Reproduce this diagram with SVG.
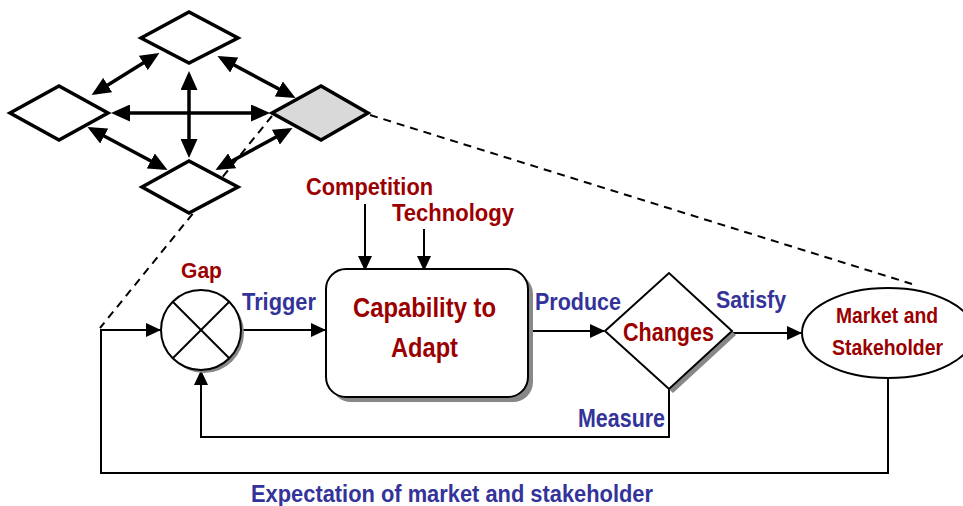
<svg xmlns="http://www.w3.org/2000/svg" width="963" height="506" viewBox="0 0 963 506">
<style>
.red{fill:#9b0000;font-family:"Liberation Sans Narrow","Liberation Sans",Arial,sans-serif;font-weight:bold}
.blue{fill:#333399;font-family:"Liberation Sans Narrow","Liberation Sans",Arial,sans-serif;font-weight:bold}
.dia{fill:#fff;stroke:#000;stroke-width:3.5;stroke-linejoin:miter}
.thick{stroke:#000;stroke-width:3.5;fill:none;marker-start:url(#ha);marker-end:url(#ha)}
.ln{stroke:#000;stroke-width:2;fill:none}
.arr{marker-end:url(#a)}
.dash{stroke:#000;stroke-width:2;stroke-dasharray:8,6;fill:none}
.shadow{fill:#888;stroke:none}
</style>
<defs>
<marker id="a" markerUnits="userSpaceOnUse" markerWidth="16" markerHeight="14" refX="14" refY="7" orient="auto"><path d="M0,0 L15,7 L0,14 z" fill="#000"/></marker>
<marker id="ha" markerUnits="userSpaceOnUse" markerWidth="19" markerHeight="17" refX="15" refY="8.5" orient="auto-start-reverse"><path d="M0,0 L19,8.5 L0,17 z" fill="#000"/></marker>
</defs>

<g id="connectors">
<line class="dash" x1="272" y1="116" x2="100" y2="328"/>
<line class="dash" x1="370" y1="115" x2="912" y2="284"/>
<line class="thick" x1="95" y1="93" x2="156" y2="55"/>
<line class="thick" x1="221" y1="58" x2="292" y2="96"/>
<line class="thick" x1="115" y1="113" x2="266" y2="113"/>
<line class="thick" x1="189" y1="75" x2="189" y2="154"/>
<line class="thick" x1="91" y1="129" x2="164" y2="168"/>
<line class="thick" x1="289" y1="130" x2="219" y2="168"/>
<line class="ln arr" x1="365" y1="204" x2="365" y2="270"/>
<line class="ln arr" x1="424" y1="229" x2="424" y2="270"/>
<polyline class="ln arr" points="101,472 101,330 160,330"/>
<line class="ln arr" x1="242" y1="330" x2="325" y2="330"/>
<line class="ln arr" x1="528" y1="331" x2="604" y2="331"/>
<line class="ln arr" x1="732" y1="333" x2="801" y2="333"/>
<polyline class="ln arr" points="669,389 669,437 201,437 201,371"/>
<polyline class="ln" points="888,378 888,473 101,473 101,470"/>
</g>

<g id="d-top"><polygon class="dia" points="141,38 189,12 238,38 189,63"/></g>
<g id="d-left"><polygon class="dia" points="10,113 59,86 108,113 59,140"/></g>
<g id="d-right"><polygon class="dia" points="272,113 321,86 368,113 321,140" style="fill:#d9d9d9"/></g>
<g id="d-bottom"><polygon class="dia" points="142,187 189,161 238,187 189,213"/></g>

<g id="gap">
<circle class="shadow" cx="204" cy="333" r="40"/>
<circle cx="201" cy="330" r="40" fill="#fff" stroke="#000" stroke-width="2"/>
<line class="ln" x1="173" y1="302" x2="229" y2="358"/>
<line class="ln" x1="229" y1="302" x2="173" y2="358"/>
<text class="red" x="181" y="278" font-size="22" textLength="41" lengthAdjust="spacingAndGlyphs">Gap</text>
</g>

<g id="capability">
<rect class="shadow" x="331" y="274" width="202" height="128" rx="20"/>
<rect x="326" y="269" width="202" height="128" rx="20" fill="#fff" stroke="#000" stroke-width="2"/>
<text class="red" x="353" y="317" font-size="28" textLength="143" lengthAdjust="spacingAndGlyphs">Capability to</text>
<text class="red" x="391" y="357" font-size="28" textLength="67" lengthAdjust="spacingAndGlyphs">Adapt</text>
</g>

<g id="changes">
<polygon class="shadow" points="609,335 673,277 736,335 673,393"/>
<polygon points="605,331 669,273 732,331 669,389" fill="#fff" stroke="#000" stroke-width="2"/>
<text class="red" x="623" y="341" font-size="25" textLength="91" lengthAdjust="spacingAndGlyphs">Changes</text>
</g>

<g id="market">
<ellipse cx="888" cy="333" rx="86" ry="45" fill="#fff" stroke="#000" stroke-width="2"/>
<text class="red" x="836" y="323" font-size="22" textLength="102" lengthAdjust="spacingAndGlyphs">Market and</text>
<text class="red" x="832" y="355" font-size="22" textLength="111" lengthAdjust="spacingAndGlyphs">Stakeholder</text>
</g>

<g id="labels">
<text class="red" x="306" y="195" font-size="23" textLength="127" lengthAdjust="spacingAndGlyphs">Competition</text>
<text class="red" x="392" y="221" font-size="24" textLength="122" lengthAdjust="spacingAndGlyphs">Technology</text>
<text class="blue" x="242" y="310" font-size="24" textLength="74" lengthAdjust="spacingAndGlyphs">Trigger</text>
<text class="blue" x="535" y="310" font-size="24" textLength="86" lengthAdjust="spacingAndGlyphs">Produce</text>
<text class="blue" x="716" y="308" font-size="24" textLength="70" lengthAdjust="spacingAndGlyphs">Satisfy</text>
<text class="blue" x="578" y="427" font-size="25" textLength="87" lengthAdjust="spacingAndGlyphs">Measure</text>
<text class="blue" x="251" y="502" font-size="23" textLength="402" lengthAdjust="spacingAndGlyphs">Expectation of market and stakeholder</text>
</g>
</svg>
